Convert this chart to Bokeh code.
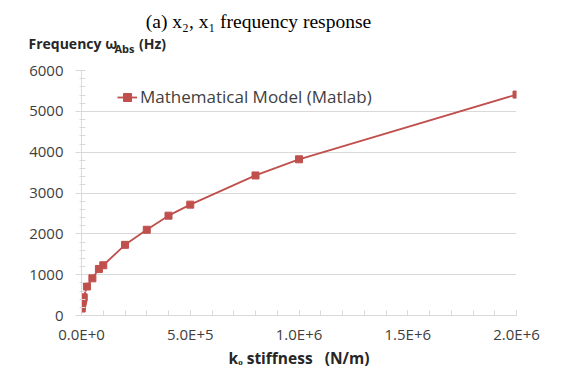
from bokeh.plotting import figure
from bokeh.models import Range1d, FixedTicker, Legend, LegendItem, Label
from bokeh.embed import file_html
from bokeh.resources import INLINE

# ---- data ----
stiffness = [1e3, 2e3, 4e3, 6e3, 8e3, 1e4, 2.5e4, 5e4, 8e4, 1e5,
             2e5, 3e5, 4e5, 5e5, 8e5, 1e6, 2e6]
frequency = [170, 230, 300, 350, 400, 445, 710, 910, 1140, 1230,
             1730, 2100, 2445, 2715, 3430, 3825, 5410]
series_name = "Mathematical Model (Matlab)"
x_ticks = [0, 500000, 1000000, 1500000, 2000000]
x_tick_labels = ["0.0E+0", "5.0E+5", "1.0E+6", "1.5E+6", "2.0E+6"]
x_minor = [i * 100000 for i in range(0, 21)]
y_ticks = [0, 1000, 2000, 3000, 4000, 5000, 6000]
y_minor = [i * 200 for i in range(0, 31)]
title_text = "(a) x\u2082, x\u2081 frequency response"
y_title_main = "Frequency \u03c9" + "\u00a0" * 6 + "(Hz)"
y_title_sub = "Abs"
x_title = "k\u2092 stiffness\u00a0\u00a0\u00a0(N/m)"

W, H = 564, 372
FL, FR, FT, FB = 81, 516, 70, 315  # frame edges in px
X0, X1, Y0, Y1 = 0, 2e6, 0, 6000

p = figure(width=W, height=H, x_range=Range1d(X0, X1), y_range=Range1d(Y0, Y1),
           output_backend="svg", toolbar_location=None,
           min_border_left=FL, min_border_right=W - FR,
           min_border_top=FT, min_border_bottom=H - FB)
p.outline_line_color = None

# axes
xa = p.xaxis[0]
xa.ticker = FixedTicker(ticks=x_ticks, minor_ticks=x_minor)
xa.major_label_overrides = {t: l for t, l in zip(x_ticks, x_tick_labels)}
xa.axis_line_color = "#D9D9D9"
xa.major_tick_line_color = "#D9D9D9"
xa.minor_tick_line_color = "#D9D9D9"
xa.major_tick_in = 5
xa.major_tick_out = 0
xa.minor_tick_in = 5
xa.minor_tick_out = 0
xa.major_label_standoff = 8
xa.major_label_text_font = "Open Sans"
xa.major_label_text_font_size = "15px"
xa.major_label_text_color = "#404040"
xa.axis_label = x_title
xa.axis_label_text_font = "Open Sans"
xa.axis_label_text_font_size = "15.5px"
xa.axis_label_text_font_style = "bold"
xa.axis_label_text_color = "#262626"
xa.axis_label_standoff = 0

ya = p.yaxis[0]
ya.ticker = FixedTicker(ticks=y_ticks, minor_ticks=y_minor)
ya.axis_line_color = "#D9D9D9"
ya.major_tick_line_color = "#D9D9D9"
ya.minor_tick_line_color = "#D9D9D9"
ya.major_tick_in = 0
ya.major_tick_out = 6
ya.minor_tick_in = 4
ya.minor_tick_out = 2
ya.major_label_standoff = 12
ya.major_label_text_font = "Open Sans"
ya.major_label_text_font_size = "15px"
ya.major_label_text_color = "#404040"

p.xgrid.grid_line_color = None
p.ygrid.grid_line_color = "#D9D9D9"
p.ygrid.grid_line_width = 1

color = "#C0504D"
ln = p.line(stiffness, frequency, line_color=color, line_width=1.8)
sc = p.scatter(stiffness, frequency, marker="square", size=7,
               fill_color=color, line_color=color)

legend = Legend(items=[LegendItem(label=series_name, renderers=[ln, sc])],
                location=(36, 207), border_line_color=None,
                background_fill_alpha=0, padding=0, margin=0,
                glyph_width=20, glyph_height=20, label_standoff=3,
                label_text_font="Open Sans", label_text_font_size="17px",
                label_text_color="#404040")
p.add_layout(legend)

# texts above the frame (each in its own "above" panel, first one nearest the frame)
p.add_layout(Label(x=28 - FL, y=27, x_units="screen", y_units="screen",
                   text=y_title_main, text_font="Open Sans", text_font_size="14px",
                   text_font_style="bold", text_color="#262626",
                   text_baseline="alphabetic"), "above")
p.add_layout(Label(x=114 - FL, y=3, x_units="screen", y_units="screen",
                   text=y_title_sub, text_font="Open Sans", text_font_size="11px",
                   text_font_style="bold", text_color="#262626",
                   text_baseline="alphabetic"), "above")
p.add_layout(Label(x=258 - FL, y=15, x_units="screen", y_units="screen",
                   text=title_text, text_font="Liberation Serif", text_font_size="19.5px",
                   text_color="#000000", text_align="center",
                   text_baseline="alphabetic"), "above")

open("out.html", "w").write(file_html(p, INLINE))
